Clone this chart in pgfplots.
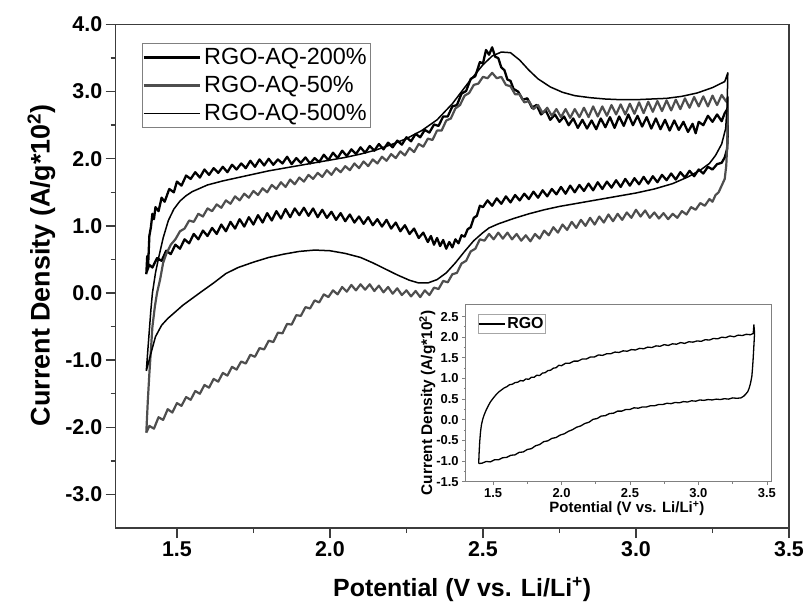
\documentclass[border=0pt]{standalone}
\usepackage{fontspec}
\setmainfont{Liberation Sans}
\usepackage{pgfplots}
\pgfplotsset{compat=1.18}
\definecolor{grayline}{RGB}{78,78,78}
\definecolor{axisgray}{RGB}{60,60,60}
\begin{document}
\begin{tikzpicture}
\useasboundingbox (0,0) rectangle (806bp,603bp);
\begin{axis}[
  at={(115.7bp,75bp)}, anchor=south west,
  scale only axis, width=673.3bp, height=503.5bp,
  xmin=1.3, xmax=3.5, ymin=-3.5, ymax=4.0,
  xtick={1.5,2.0,2.5,3.0,3.5}, ytick={-3,-2,-1,0,1,2,3,4},
  minor x tick num=1, minor y tick num=1,
  xtick pos=bottom, ytick pos=left, tick align=outside,
  major tick length=10bp, minor tick length=5bp,
  axis line style={axisgray, line width=1.4bp},
  tick style={axisgray, line width=1.4bp},
  /pgf/number format/assume math mode=true,
  tick label style={font=\fontsize{21.5}{21.5}\selectfont\bfseries, /pgf/number format/fixed, /pgf/number format/fixed zerofill, /pgf/number format/precision=1},
  xlabel={Potential (V vs. Li/Li\textsuperscript{+})},
  ylabel={Current Density (A/g*10\textsuperscript{2})},
  every axis x label/.style={at={(axis description cs:0.5146,-0.137)}, anchor=base, font=\fontsize{25}{25}\selectfont\bfseries},
  every axis y label/.style={at={(axis description cs:-0.0983,0.522)}, rotate=90, anchor=base, font=\fontsize{27}{27}\selectfont\bfseries},
  legend cell align=left,
  legend style={at={(axis description cs:0.039,0.963)}, anchor=north west, draw=gray, line width=0.8bp, font=\fontsize{23.5}{23.5}\selectfont, inner xsep=0pt, inner ysep=0pt, row sep=0pt, nodes={inner sep=3.5bp, text height=17bp, text depth=4bp}},
  legend image code/.code={\draw[#1] (-3bp,0bp) -- (53bp,0bp);},
  every axis plot/.append style={line join=round, mark=none},
]
% RGO-AQ-200%
\addplot[black, line width=2.3bp] coordinates {
(1.400,0.28)(1.403,0.55)(1.406,0.42)(1.410,0.85)(1.415,0.98)(1.420,1.18)(1.425,1.10)(1.430,1.28)(1.440,1.22)(1.450,1.42)(1.460,1.36)(1.475,1.55)(1.490,1.50)(1.500,1.66)(1.515,1.60)(1.530,1.75)(1.545,1.70)(1.560,1.80)(1.575,1.72)(1.590,1.84)(1.605,1.76)(1.620,1.86)(1.635,1.79)(1.650,1.88)(1.665,1.80)(1.680,1.91)(1.695,1.84)(1.710,1.93)(1.725,1.86)(1.740,1.97)(1.755,1.88)(1.770,1.99)(1.785,1.90)(1.800,2.00)(1.815,1.91)(1.830,1.99)(1.845,1.93)(1.860,2.03)(1.875,1.92)(1.890,2.01)(1.905,1.94)(1.920,2.02)(1.935,1.93)(1.950,2.01)(1.965,1.95)(1.980,2.06)(1.995,1.98)(2.010,2.09)(2.025,2.01)(2.040,2.12)(2.055,2.04)(2.070,2.14)(2.085,2.07)(2.100,2.17)(2.115,2.09)(2.130,2.19)(2.145,2.12)(2.160,2.22)(2.175,2.14)(2.190,2.24)(2.205,2.17)(2.220,2.27)(2.235,2.21)(2.250,2.32)(2.265,2.26)(2.280,2.37)(2.295,2.32)(2.310,2.43)(2.325,2.39)(2.340,2.51)(2.355,2.49)(2.370,2.63)(2.385,2.63)(2.400,2.78)(2.415,2.80)(2.430,2.97)(2.445,3.01)(2.460,3.19)(2.475,3.23)(2.490,3.44)(2.500,3.42)(2.510,3.62)(2.520,3.55)(2.530,3.66)(2.540,3.52)(2.550,3.50)(2.560,3.36)(2.570,3.32)(2.580,3.18)(2.590,3.16)(2.600,3.04)(2.615,3.00)(2.630,2.88)(2.645,2.90)(2.660,2.76)(2.675,2.80)(2.690,2.66)(2.705,2.72)(2.720,2.58)(2.735,2.66)(2.750,2.55)(2.765,2.63)(2.780,2.50)(2.795,2.60)(2.810,2.46)(2.825,2.58)(2.840,2.45)(2.855,2.57)(2.870,2.44)(2.885,2.60)(2.900,2.47)(2.915,2.62)(2.930,2.46)(2.945,2.63)(2.960,2.49)(2.975,2.66)(2.990,2.50)(3.005,2.64)(3.020,2.48)(3.035,2.62)(3.050,2.45)(3.065,2.60)(3.080,2.44)(3.095,2.58)(3.110,2.42)(3.125,2.57)(3.140,2.43)(3.155,2.55)(3.170,2.40)(3.185,2.52)(3.195,2.38)(3.205,2.55)(3.220,2.50)(3.235,2.64)(3.250,2.55)(3.265,2.66)(3.280,2.56)(3.290,2.68)(3.300,2.75)
(3.300,2.40)(3.298,2.15)(3.290,2.02)(3.280,1.94)(3.265,1.92)(3.250,1.84)(3.235,1.88)(3.220,1.78)(3.205,1.84)(3.190,1.74)(3.175,1.82)(3.160,1.72)(3.145,1.80)(3.130,1.69)(3.115,1.78)(3.100,1.68)(3.085,1.76)(3.070,1.65)(3.055,1.74)(3.040,1.63)(3.025,1.73)(3.010,1.62)(2.995,1.71)(2.980,1.60)(2.965,1.70)(2.950,1.58)(2.935,1.68)(2.920,1.57)(2.905,1.66)(2.890,1.55)(2.875,1.65)(2.860,1.53)(2.845,1.63)(2.830,1.52)(2.815,1.61)(2.800,1.50)(2.785,1.60)(2.770,1.48)(2.755,1.58)(2.740,1.47)(2.725,1.55)(2.710,1.44)(2.695,1.53)(2.680,1.42)(2.665,1.51)(2.650,1.40)(2.635,1.48)(2.620,1.38)(2.605,1.46)(2.590,1.35)(2.575,1.44)(2.560,1.33)(2.545,1.41)(2.530,1.30)(2.515,1.38)(2.500,1.28)(2.490,1.30)(2.480,1.15)(2.470,1.12)(2.460,0.98)(2.450,0.95)(2.440,0.84)(2.430,0.86)(2.420,0.74)(2.410,0.80)(2.400,0.68)(2.390,0.76)(2.380,0.66)(2.370,0.79)(2.360,0.70)(2.350,0.82)(2.340,0.72)(2.330,0.85)(2.320,0.76)(2.305,0.90)(2.290,0.82)(2.275,0.96)(2.260,0.88)(2.245,1.01)(2.230,0.92)(2.215,1.05)(2.200,0.96)(2.185,1.09)(2.170,0.99)(2.155,1.10)(2.140,1.01)(2.125,1.13)(2.110,1.03)(2.095,1.14)(2.080,1.05)(2.065,1.17)(2.050,1.07)(2.035,1.19)(2.020,1.09)(2.005,1.21)(1.990,1.12)(1.975,1.24)(1.960,1.13)(1.945,1.26)(1.930,1.15)(1.915,1.27)(1.900,1.16)(1.885,1.26)(1.870,1.13)(1.855,1.25)(1.840,1.11)(1.825,1.22)(1.810,1.08)(1.795,1.19)(1.780,1.05)(1.765,1.16)(1.750,1.02)(1.735,1.13)(1.720,0.99)(1.705,1.10)(1.690,0.96)(1.675,1.06)(1.660,0.92)(1.645,1.02)(1.630,0.88)(1.615,0.97)(1.600,0.85)(1.585,0.93)(1.570,0.80)(1.555,0.88)(1.540,0.74)(1.525,0.80)(1.510,0.66)(1.495,0.72)(1.480,0.58)(1.465,0.63)(1.450,0.48)(1.435,0.52)(1.420,0.38)(1.410,0.42)(1.400,0.30)
};
\addlegendentry{RGO-AQ-200\%}
% RGO-AQ-50%
\addplot[grayline, line width=2.2bp] coordinates {
(1.400,-2.08)(1.405,-1.60)(1.410,-1.20)(1.415,-0.85)(1.420,-0.50)(1.428,-0.20)(1.435,0.00)(1.445,0.20)(1.455,0.45)(1.465,0.58)(1.480,0.72)(1.495,0.80)(1.510,0.92)(1.525,0.96)(1.540,1.08)(1.555,1.06)(1.570,1.18)(1.585,1.14)(1.600,1.26)(1.615,1.22)(1.630,1.32)(1.645,1.27)(1.660,1.38)(1.675,1.33)(1.690,1.44)(1.705,1.38)(1.720,1.48)(1.735,1.42)(1.750,1.52)(1.765,1.46)(1.780,1.56)(1.795,1.50)(1.810,1.61)(1.825,1.55)(1.840,1.65)(1.855,1.58)(1.870,1.69)(1.885,1.62)(1.900,1.72)(1.915,1.66)(1.930,1.76)(1.945,1.70)(1.960,1.79)(1.975,1.73)(1.990,1.83)(2.005,1.76)(2.020,1.86)(2.035,1.80)(2.050,1.89)(2.065,1.83)(2.080,1.93)(2.095,1.86)(2.110,1.96)(2.125,1.89)(2.140,1.99)(2.155,1.93)(2.170,2.03)(2.185,1.97)(2.200,2.07)(2.215,2.01)(2.230,2.11)(2.245,2.05)(2.260,2.16)(2.275,2.10)(2.290,2.22)(2.305,2.18)(2.320,2.30)(2.335,2.28)(2.350,2.42)(2.365,2.42)(2.380,2.57)(2.395,2.60)(2.410,2.75)(2.425,2.80)(2.440,2.94)(2.455,2.98)(2.470,3.10)(2.485,3.12)(2.500,3.22)(2.515,3.20)(2.530,3.28)(2.545,3.20)(2.560,3.22)(2.575,3.10)(2.590,3.08)(2.605,2.96)(2.620,2.96)(2.635,2.84)(2.650,2.86)(2.665,2.74)(2.680,2.80)(2.695,2.68)(2.710,2.76)(2.725,2.64)(2.740,2.74)(2.755,2.62)(2.770,2.74)(2.785,2.61)(2.800,2.74)(2.815,2.62)(2.830,2.76)(2.845,2.62)(2.860,2.78)(2.875,2.63)(2.890,2.78)(2.905,2.64)(2.920,2.80)(2.935,2.66)(2.950,2.81)(2.965,2.66)(2.980,2.82)(2.995,2.67)(3.010,2.84)(3.025,2.68)(3.040,2.85)(3.055,2.70)(3.070,2.86)(3.085,2.71)(3.100,2.87)(3.115,2.72)(3.130,2.88)(3.145,2.74)(3.160,2.90)(3.175,2.76)(3.190,2.92)(3.205,2.78)(3.220,2.93)(3.235,2.78)(3.250,2.94)(3.265,2.80)(3.280,2.95)(3.295,2.85)(3.300,2.92)
(3.300,2.60)(3.298,2.20)(3.295,1.90)(3.290,1.70)(3.280,1.60)(3.270,1.50)(3.260,1.46)(3.250,1.36)(3.240,1.40)(3.225,1.30)(3.210,1.34)(3.195,1.24)(3.180,1.28)(3.165,1.17)(3.150,1.22)(3.135,1.12)(3.120,1.18)(3.105,1.10)(3.090,1.19)(3.075,1.11)(3.060,1.20)(3.045,1.12)(3.030,1.23)(3.015,1.14)(3.000,1.24)(2.985,1.12)(2.970,1.20)(2.955,1.09)(2.940,1.18)(2.925,1.07)(2.910,1.17)(2.895,1.05)(2.880,1.14)(2.865,1.02)(2.850,1.12)(2.835,1.00)(2.820,1.09)(2.805,0.97)(2.790,1.06)(2.775,0.94)(2.760,1.02)(2.745,0.90)(2.730,0.98)(2.715,0.86)(2.700,0.93)(2.685,0.81)(2.670,0.88)(2.655,0.77)(2.640,0.86)(2.625,0.78)(2.610,0.88)(2.595,0.80)(2.580,0.90)(2.565,0.81)(2.550,0.90)(2.535,0.80)(2.520,0.88)(2.505,0.78)(2.490,0.80)(2.475,0.66)(2.460,0.62)(2.445,0.48)(2.430,0.44)(2.415,0.30)(2.400,0.28)(2.385,0.16)(2.370,0.18)(2.355,0.06)(2.340,0.08)(2.325,-0.03)(2.310,0.04)(2.295,-0.06)(2.280,0.03)(2.265,-0.05)(2.250,0.04)(2.235,-0.03)(2.220,0.07)(2.205,-0.01)(2.190,0.09)(2.175,0.01)(2.160,0.11)(2.145,0.03)(2.130,0.13)(2.115,0.05)(2.100,0.13)(2.085,0.04)(2.070,0.12)(2.055,0.02)(2.040,0.09)(2.025,-0.02)(2.010,0.04)(1.995,-0.06)(1.980,-0.02)(1.965,-0.14)(1.950,-0.11)(1.935,-0.23)(1.920,-0.21)(1.905,-0.34)(1.890,-0.33)(1.875,-0.47)(1.860,-0.46)(1.845,-0.60)(1.830,-0.59)(1.815,-0.73)(1.800,-0.71)(1.785,-0.84)(1.770,-0.82)(1.755,-0.95)(1.740,-0.92)(1.725,-1.05)(1.710,-1.02)(1.695,-1.14)(1.680,-1.10)(1.665,-1.23)(1.650,-1.19)(1.635,-1.32)(1.620,-1.28)(1.605,-1.41)(1.590,-1.37)(1.575,-1.50)(1.560,-1.46)(1.545,-1.59)(1.530,-1.55)(1.515,-1.68)(1.500,-1.64)(1.485,-1.78)(1.470,-1.73)(1.455,-1.89)(1.440,-1.85)(1.425,-2.02)(1.410,-1.98)(1.400,-2.08)
};
\addlegendentry{RGO-AQ-50\%}
% RGO-AQ-500%
\addplot[black, line width=1.5bp] coordinates {
(1.400,-1.16)(1.405,-0.85)(1.410,-0.55)(1.415,-0.25)(1.420,0.00)(1.430,0.30)(1.440,0.52)(1.455,0.82)(1.472,1.08)(1.490,1.25)(1.510,1.37)(1.530,1.45)(1.550,1.51)(1.600,1.61)(1.650,1.67)(1.700,1.72)(1.750,1.77)(1.800,1.82)(1.850,1.86)(1.900,1.90)(1.950,1.94)(2.000,1.98)(2.050,2.02)(2.100,2.07)(2.150,2.13)(2.200,2.21)(2.250,2.30)(2.300,2.42)(2.350,2.58)(2.400,2.82)(2.450,3.12)(2.500,3.40)(2.530,3.53)(2.560,3.59)(2.590,3.58)(2.620,3.47)(2.650,3.32)(2.680,3.19)(2.720,3.07)(2.760,2.99)(2.800,2.94)(2.850,2.91)(2.900,2.89)(2.950,2.88)(3.000,2.88)(3.050,2.89)(3.100,2.90)(3.150,2.93)(3.200,2.98)(3.250,3.06)(3.290,3.15)(3.300,3.28)
(3.298,2.80)(3.293,2.45)(3.280,2.22)(3.260,2.05)(3.240,1.93)(3.210,1.83)(3.170,1.73)(3.120,1.63)(3.060,1.55)(3.000,1.49)(2.950,1.45)(2.900,1.41)(2.850,1.37)(2.800,1.33)(2.750,1.29)(2.700,1.24)(2.650,1.18)(2.600,1.11)(2.550,1.03)(2.520,0.97)(2.500,0.90)(2.470,0.78)(2.440,0.62)(2.410,0.45)(2.380,0.30)(2.350,0.20)(2.320,0.15)(2.290,0.15)(2.260,0.19)(2.220,0.27)(2.180,0.36)(2.140,0.45)(2.100,0.53)(2.050,0.59)(2.000,0.63)(1.950,0.64)(1.900,0.62)(1.850,0.58)(1.800,0.53)(1.750,0.46)(1.700,0.38)(1.660,0.29)(1.620,0.15)(1.580,0.02)(1.550,-0.08)(1.520,-0.18)(1.500,-0.26)(1.470,-0.38)(1.450,-0.48)(1.430,-0.65)(1.415,-0.90)(1.400,-1.16)
};
\addlegendentry{RGO-AQ-500\%}
\end{axis}
% inset
\begin{axis}[
  at={(465.7bp,121.3bp)}, anchor=south west,
  scale only axis, width=305.3bp, height=176.7bp,
  xmin=1.3, xmax=3.53, ymin=-1.5, ymax=2.78,
  xtick={1.5,2.0,2.5,3.0,3.5}, ytick={-1.5,-1.0,-0.5,0,0.5,1.0,1.5,2.0,2.5},
  minor x tick num=1, minor y tick num=1,
  xtick pos=bottom, ytick pos=left, tick align=outside,
  major tick length=3.5bp, minor tick length=2bp,
  axis line style={gray, line width=1bp},
  tick style={gray, line width=0.8bp},
  axis background/.style={fill=white},
  /pgf/number format/assume math mode=true,
  tick label style={font=\fontsize{13}{13}\selectfont\bfseries, /pgf/number format/fixed, /pgf/number format/fixed zerofill, /pgf/number format/precision=1},
  xlabel={Potential (V vs. Li/Li\textsuperscript{+})},
  ylabel={Current Density (A/g*10\textsuperscript{2})},
  every axis x label/.style={at={(axis description cs:0.528,-0.175)}, anchor=base, font=\fontsize{15}{15}\selectfont\bfseries},
  every axis y label/.style={at={(axis description cs:-0.110,0.445)}, rotate=90, anchor=base, font=\fontsize{15.5}{15.5}\selectfont\bfseries},
  legend style={at={(axis description cs:0.039,0.949)}, anchor=north west, draw=gray!70, line width=0.8bp, font=\fontsize{16}{16}\selectfont\bfseries, inner xsep=0pt, inner ysep=0pt, nodes={inner sep=2bp, text height=12bp, text depth=3bp}},
  legend image code/.code={\draw[#1] (0bp,0bp) -- (26bp,0bp);},
  every axis plot/.append style={line join=round, mark=none},
]
\addplot[black, line width=1.3bp] coordinates {
(1.395,-1.05)(1.398,-0.80)(1.402,-0.55)(1.408,-0.30)(1.415,-0.12)(1.425,0.02)(1.435,0.12)(1.450,0.24)(1.465,0.34)(1.480,0.43)(1.500,0.52)(1.520,0.60)(1.540,0.67)(1.560,0.72)(1.580,0.77)(1.600,0.80)(1.620,0.85)(1.640,0.86)(1.660,0.90)(1.680,0.91)(1.700,0.95)(1.720,0.94)(1.740,0.99)(1.760,0.98)(1.780,1.03)(1.800,1.03)(1.820,1.08)(1.840,1.07)(1.860,1.13)(1.880,1.14)(1.900,1.19)(1.920,1.20)(1.940,1.25)(1.960,1.26)(1.980,1.32)(2.000,1.31)(2.030,1.37)(2.060,1.37)(2.090,1.42)(2.120,1.42)(2.150,1.47)(2.180,1.47)(2.210,1.52)(2.240,1.52)(2.270,1.57)(2.300,1.56)(2.330,1.60)(2.360,1.60)(2.390,1.64)(2.420,1.63)(2.450,1.67)(2.480,1.66)(2.510,1.70)(2.540,1.69)(2.570,1.73)(2.600,1.72)(2.630,1.76)(2.660,1.75)(2.690,1.79)(2.720,1.78)(2.750,1.82)(2.780,1.80)(2.810,1.84)(2.840,1.83)(2.870,1.87)(2.900,1.85)(2.930,1.89)(2.960,1.88)(2.990,1.91)(3.020,1.90)(3.050,1.94)(3.080,1.93)(3.110,1.97)(3.140,1.96)(3.170,2.00)(3.200,1.99)(3.230,2.03)(3.260,2.01)(3.290,2.05)(3.320,2.04)(3.350,2.07)(3.380,2.06)(3.400,2.09)(3.405,2.30)(3.410,2.10)
(3.405,1.80)(3.400,1.50)(3.395,1.25)(3.390,1.05)(3.380,0.88)(3.370,0.76)(3.360,0.68)(3.345,0.62)(3.330,0.57)(3.310,0.53)(3.280,0.52)(3.250,0.53)(3.220,0.50)(3.190,0.51)(3.160,0.49)(3.130,0.50)(3.100,0.48)(3.070,0.49)(3.040,0.47)(3.010,0.48)(2.980,0.45)(2.950,0.46)(2.920,0.43)(2.890,0.44)(2.860,0.41)(2.830,0.42)(2.800,0.39)(2.770,0.40)(2.740,0.37)(2.710,0.37)(2.680,0.34)(2.650,0.34)(2.620,0.31)(2.590,0.31)(2.560,0.28)(2.530,0.29)(2.500,0.25)(2.470,0.25)(2.440,0.21)(2.410,0.21)(2.380,0.16)(2.350,0.15)(2.320,0.10)(2.290,0.09)(2.260,0.03)(2.230,0.01)(2.200,-0.06)(2.170,-0.09)(2.140,-0.15)(2.110,-0.18)(2.080,-0.24)(2.050,-0.28)(2.020,-0.34)(1.990,-0.37)(1.960,-0.43)(1.930,-0.45)(1.900,-0.51)(1.870,-0.53)(1.840,-0.60)(1.810,-0.63)(1.780,-0.70)(1.750,-0.72)(1.720,-0.78)(1.690,-0.79)(1.660,-0.85)(1.630,-0.86)(1.600,-0.91)(1.570,-0.92)(1.540,-0.97)(1.510,-0.97)(1.480,-1.02)(1.450,-1.01)(1.420,-1.05)(1.400,-1.06)(1.395,-1.05)
};
\addlegendentry{RGO}
\end{axis}
\end{tikzpicture}
\end{document}
